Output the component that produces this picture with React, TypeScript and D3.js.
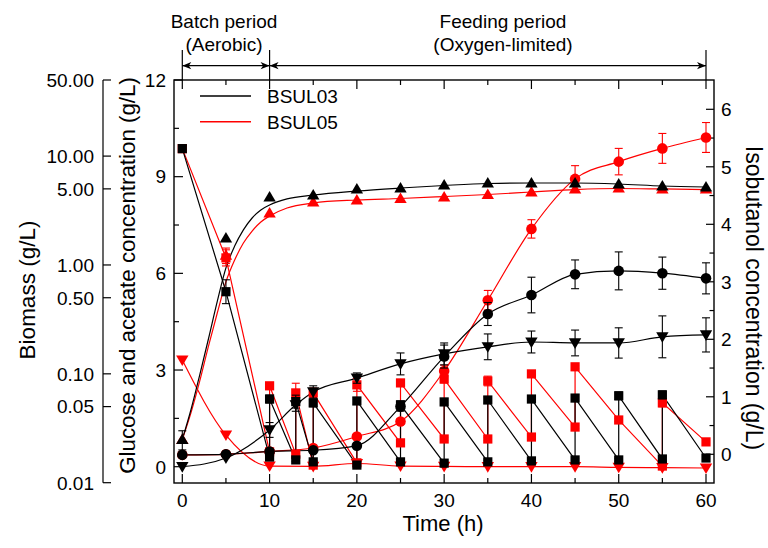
import React from 'react';
import * as d3 from 'd3';

// ---------------- data ----------------
const timesMain = [0, 5, 10, 15, 20, 25, 30, 35, 40, 45, 50, 55, 60];
const timesAcetate03 = [0, 5, 10, 13, 15, 20, 25, 30, 35, 40, 45, 50, 55, 60];

// Biomass (g/L, log axis) - triangles up
const biomass03 = [0.025, 1.77, 4.21, 4.39, 4.99, 5.09, 5.43, 5.66, 5.66, 5.66, 5.54, 5.31, 5.2];
const biomass05 = [0.025, 1.23, 3.0, 3.79, 3.95, 4.08, 4.21, 4.44, 4.68, 4.99, 5.09, 4.99, 4.99];
const biomassErr03 = [0.005, 0, 0, 0, 0, 0, 0, 0, 0, 0, 0, 0, 0];
const biomassErr05 = [0, 0.2, 0, 0, 0, 0, 0, 0, 0, 0, 0, 0, 0];
const biomassFitTime = [0, 1, 2, 3, 4, 5, 6, 7, 8, 9, 10, 12, 15, 20, 25, 30, 35, 40, 45, 50, 55, 60];
const biomassFit03 = [0.025, 0.047, 0.098, 0.21, 0.46, 0.94, 1.49, 2.1, 2.7, 3.2, 3.55, 4.04, 4.39, 4.78, 5.09, 5.37, 5.6, 5.66, 5.66, 5.54, 5.31, 5.2];
const biomassFit05 = [0.025, 0.044, 0.086, 0.18, 0.36, 0.7, 1.11, 1.59, 2.05, 2.48, 2.82, 3.34, 3.71, 3.95, 4.08, 4.25, 4.44, 4.68, 4.93, 5.04, 4.99, 4.93];

// Glucose (g/L) - squares, fed-batch sawtooth
const glucoseTime03 = [0, 5, 10, 10, 13, 13, 15, 15, 20, 20, 25, 25, 30, 30, 35, 35, 40, 40, 45, 45, 50, 50, 55, 55, 60];
const glucose03 = [9.87, 5.43, 0.3, 2.1, 0.21, 2.02, 0.15, 1.98, 0.05, 2.04, 0.15, 1.92, 0.11, 2.01, 0.15, 2.07, 0.18, 2.1, 0.21, 2.13, 0.21, 2.2, 0.24, 2.23, 0.27];
const glucoseErr03 = [0.1, 0.37, 0.05, 0.12, 0.05, 0.2, 0.05, 0.12, 0.05, 0.1, 0.05, 0.12, 0.05, 0.1, 0.05, 0.1, 0.05, 0.1, 0.05, 0.1, 0.05, 0.12, 0.05, 0.12, 0.05];
const glucoseTime05 = [0, 5, 10, 10, 13, 13, 15, 15, 20, 20, 25, 25, 30, 30, 35, 35, 40, 40, 45, 45, 50, 55, 55, 60];
const glucose05 = [9.87, 6.48, 0.46, 2.51, 0.39, 2.29, 0.05, 2.29, 0.12, 2.54, 0.74, 2.6, 0.86, 2.72, 0.86, 2.66, 0.92, 2.88, 1.23, 3.1, 1.45, 0.02, 1.98, 0.77];
const glucoseErr05 = [0.1, 0.25, 0.05, 0.1, 0.05, 0.3, 0.05, 0.15, 0.05, 0.2, 0.05, 0.1, 0.05, 0.12, 0.05, 0.15, 0.05, 0.1, 0.05, 0.05, 0.05, 0.05, 0.12, 0.05];

// Acetate (g/L) - triangles down
const acetate03 = [0, 0.27, 1.14, 1.92, 2.32, 2.75, 3.19, 3.5, 3.72, 3.87, 3.84, 3.84, 4.03, 4.09];
const acetateErr03 = [0, 0, 0.23, 0.2, 0.19, 0.16, 0.34, 0.34, 0.4, 0.34, 0.4, 0.47, 0.65, 0.53];
const acetate05 = [3.31, 0.98, 0.02, 0.01, 0.1, 0.02, 0.01, 0.0, 0.0, 0.0, -0.02, -0.03, -0.04];
const acetateErr05 = [0, 0, 0, 0, 0, 0, 0, 0, 0, 0, 0, 0, 0];

// Isobutanol (g/L, right axis) - circles
const isobutanol03 = [-0.01, 0, 0.05, 0.07, 0.15, 0.83, 1.7, 2.44, 2.77, 3.13, 3.19, 3.15, 3.06];
const isobutanolErr03 = [0, 0, 0, 0, 0, 0.08, 0.2, 0.2, 0.31, 0.25, 0.33, 0.28, 0.27];
const isobutanol05 = [-0.01, 0, 0.05, 0.11, 0.31, 0.57, 1.45, 2.68, 3.92, 4.79, 5.09, 5.32, 5.51];
const isobutanolErr05 = [0, 0, 0, 0, 0, 0.05, 0.1, 0.17, 0.16, 0.23, 0.23, 0.26, 0.26];

const xTicks = [0, 10, 20, 30, 40, 50, 60];
const xMinor = [5, 15, 25, 35, 45, 55];
const gTicks = [0, 3, 6, 9, 12];
const gMinor = [1.5, 4.5, 7.5, 10.5];
const iTicks = [0, 1, 2, 3, 4, 5, 6];
const iMinor = [0.5, 1.5, 2.5, 3.5, 4.5, 5.5];
const bTicks = [50, 10, 5, 1, 0.5, 0.1, 0.05, 0.01];

const strains = ['BSUL03', 'BSUL05'];
const colors = ['#000000', '#ff0000'];

// ---------------- layout ----------------
const W = 768;
const H = 548;
const frame = { left: 174, right: 714, top: 80, bottom: 483 };
const FONT = "'Liberation Sans', Arial, Helvetica, sans-serif";

const x = d3.scaleLinear().domain([0, 60]).range([182.3, 706]);
const yG = d3.scaleLinear().domain([0, 12]).range([466.7, 80]);
const yI = d3.scaleLinear().domain([0, 6]).range([454.3, 109.3]);
const yB = d3.scaleLog().domain([0.01, 50]).range([482.7, 80]);

type Shape = 'square' | 'circle' | 'up' | 'down';

function Marker({ shape, cx, cy, color }: { shape: Shape; cx: number; cy: number; color: string }) {
  if (shape === 'square') return <rect x={cx - 4.6} y={cy - 4.6} width={9.2} height={9.2} fill={color} />;
  if (shape === 'circle') return <circle cx={cx} cy={cy} r={5.3} fill={color} />;
  if (shape === 'up') return <path d={`M${cx},${cy - 6}L${cx + 6.2},${cy + 4.6}L${cx - 6.2},${cy + 4.6}Z`} fill={color} />;
  return <path d={`M${cx},${cy + 6}L${cx + 6.2},${cy - 4.6}L${cx - 6.2},${cy - 4.6}Z`} fill={color} />;
}

interface Series {
  times: number[];
  values: number[];
  errors: number[];
  scale: (v: number) => number;
  shape: Shape;
  color: string;
  smooth: boolean;
  fitTimes?: number[];
  fitValues?: number[];
}

function buildSeries(): Series[] {
  const s: Series[] = [];
  // red (BSUL05) first, black on top
  [1, 0].forEach((k) => {
    const c = colors[k];
    s.push({ times: timesMain, values: k ? biomass05 : biomass03, errors: k ? biomassErr05 : biomassErr03, scale: yB as any, shape: 'up', color: c, smooth: true, fitTimes: biomassFitTime, fitValues: k ? biomassFit05 : biomassFit03 });
    s.push({ times: k ? glucoseTime05 : glucoseTime03, values: k ? glucose05 : glucose03, errors: k ? glucoseErr05 : glucoseErr03, scale: yG, shape: 'square', color: c, smooth: false });
    s.push({ times: k ? timesMain : timesAcetate03, values: k ? acetate05 : acetate03, errors: k ? acetateErr05 : acetateErr03, scale: yG, shape: 'down', color: c, smooth: true });
    s.push({ times: timesMain, values: k ? isobutanol05 : isobutanol03, errors: k ? isobutanolErr05 : isobutanolErr03, scale: yI, shape: 'circle', color: c, smooth: true });
  });
  return s;
}

function arrowHead(tipX: number, y: number, dir: number) {
  const L = 9, h = 3.6, n = 6.5;
  return `M${tipX},${y}L${tipX - dir * L},${y - h}L${tipX - dir * n},${y}L${tipX - dir * L},${y + h}Z`;
}

export default function App() {
  const series = buildSeries();
  const lineW = 1.2;

  const lines = series.map((s, i) => {
    const ts = s.fitTimes ?? s.times;
    const vs = s.fitValues ?? s.values;
    const pts: [number, number][] = ts.map((t, j) => [x(t), s.scale(vs[j])]);
    const gen = d3.line().curve(s.smooth ? d3.curveMonotoneX : d3.curveLinear);
    return <path key={'l' + i} d={gen(pts) || ''} fill="none" stroke={s.color} strokeWidth={lineW} />;
  });

  const marks = series.map((s, i) => (
    <g key={'m' + i}>
      {s.times.map((t, j) => {
        const v = s.values[j];
        const e = s.errors[j];
        const cx = x(t);
        const cy = s.scale(v);
        const els: any[] = [];
        if (e > 0) {
          const y1 = s.scale(v + e);
          const y2 = s.scale(Math.max(v - e, 0.0001));
          els.push(
            <g key={'e' + j} stroke={s.color} strokeWidth={1.1}>
              <line x1={cx} x2={cx} y1={y1} y2={y2} />
              <line x1={cx - 4} x2={cx + 4} y1={y1} y2={y1} />
              <line x1={cx - 4} x2={cx + 4} y1={y2} y2={y2} />
            </g>
          );
        }
        els.push(<Marker key={'p' + j} shape={s.shape} cx={cx} cy={cy} color={s.color} />);
        return <g key={j}>{els}</g>;
      })}
    </g>
  ));

  const tickStroke = { stroke: '#000', strokeWidth: 1.2 };

  return (
    <svg width={W} height={H} style={{ position: 'absolute', left: 0, top: 0, background: '#fff' }} fontFamily={FONT}>
      <rect x={0} y={0} width={W} height={H} fill="#fff" />

      {/* header annotations */}
      <g>
        {[0, 10, 60].map((t) => (
          <line key={'hv' + t} x1={x(t)} x2={x(t)} y1={50} y2={frame.top} {...tickStroke} />
        ))}
        <line x1={x(0)} x2={x(10)} y1={65.7} y2={65.7} {...tickStroke} />
        <line x1={x(10)} x2={x(60)} y1={65.7} y2={65.7} {...tickStroke} />
        <path d={arrowHead(x(0), 65.7, -1)} fill="#000" />
        <path d={arrowHead(x(10), 65.7, 1)} fill="#000" />
        <path d={arrowHead(x(10), 65.7, -1)} fill="#000" />
        <path d={arrowHead(x(60), 65.7, 1)} fill="#000" />
        <text x={224} y={27.5} fontSize={19} textAnchor="middle">Batch period</text>
        <text x={224} y={50.5} fontSize={19} textAnchor="middle">(Aerobic)</text>
        <text x={503} y={27.5} fontSize={19} textAnchor="middle">Feeding period</text>
        <text x={503} y={50.5} fontSize={19} textAnchor="middle">(Oxygen-limited)</text>
      </g>

      {/* frame */}
      <rect x={frame.left} y={frame.top} width={frame.right - frame.left} height={frame.bottom - frame.top} fill="none" stroke="#000" strokeWidth={1.4} />

      {/* x ticks top & bottom */}
      {xTicks.map((t) => (
        <g key={'xt' + t}>
          <line x1={x(t)} x2={x(t)} y1={frame.bottom} y2={frame.bottom - 9} {...tickStroke} />
          <line x1={x(t)} x2={x(t)} y1={frame.top} y2={frame.top + 9} {...tickStroke} />
          <text x={x(t)} y={507} fontSize={19} textAnchor="middle">{t}</text>
        </g>
      ))}
      {xMinor.map((t) => (
        <g key={'xm' + t}>
          <line x1={x(t)} x2={x(t)} y1={frame.bottom} y2={frame.bottom - 5} {...tickStroke} />
          <line x1={x(t)} x2={x(t)} y1={frame.top} y2={frame.top + 5} {...tickStroke} />
        </g>
      ))}
      <text x={443} y={531} fontSize={22} textAnchor="middle">Time (h)</text>

      {/* left glucose axis */}
      {gTicks.map((v) => (
        <g key={'gt' + v}>
          <line x1={frame.left} x2={frame.left + 9} y1={yG(v)} y2={yG(v)} {...tickStroke} />
          <text x={166} y={yG(v) + 6.8} fontSize={19} textAnchor="end">{v}</text>
        </g>
      ))}
      {gMinor.map((v) => (
        <line key={'gm' + v} x1={frame.left} x2={frame.left + 5} y1={yG(v)} y2={yG(v)} {...tickStroke} />
      ))}
      <text transform={`translate(135,275.5) rotate(-90)`} fontSize={22.3} textAnchor="middle">Glucose and acetate concentration (g/L)</text>

      {/* right isobutanol axis */}
      {iTicks.map((v) => (
        <g key={'it' + v}>
          <line x1={frame.right} x2={frame.right - 8} y1={yI(v)} y2={yI(v)} {...tickStroke} />
          <text x={721} y={yI(v) + 6.8} fontSize={19} textAnchor="start">{v}</text>
        </g>
      ))}
      {iMinor.map((v) => (
        <line key={'im' + v} x1={frame.right} x2={frame.right - 4.5} y1={yI(v)} y2={yI(v)} {...tickStroke} />
      ))}
      <text transform={`translate(746,298) rotate(90)`} fontSize={23} textAnchor="middle">Isobutanol concentration (g/L)</text>

      {/* biomass log axis */}
      <line x1={103} x2={103} y1={yB(50)} y2={yB(0.01)} {...tickStroke} />
      {bTicks.map((v) => (
        <g key={'bt' + v}>
          <line x1={103} x2={111} y1={yB(v)} y2={yB(v)} {...tickStroke} />
          <text x={94} y={yB(v) + 6.8} fontSize={19} textAnchor="end">{d3.format('.2f')(v)}</text>
        </g>
      ))}
      <text transform={`translate(35,290) rotate(-90)`} fontSize={22.5} textAnchor="middle">Biomass (g/L)</text>

      {/* data */}
      <g>{lines}</g>
      <g>{marks}</g>

      {/* legend */}
      {strains.map((name, i) => {
        const ly = 96 + i * 25.7;
        return (
          <g key={name}>
            <line x1={200} x2={251} y1={ly} y2={ly} stroke={colors[i]} strokeWidth={1.6} />
            <text x={267} y={ly + 6.8} fontSize={19}>{name}</text>
          </g>
        );
      })}
    </svg>
  );
}
